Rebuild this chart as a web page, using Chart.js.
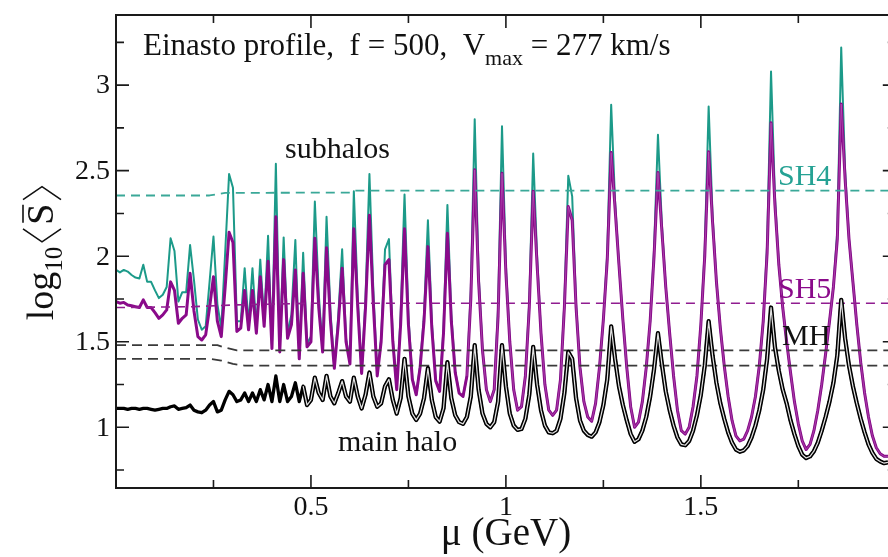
<!DOCTYPE html>
<html>
<head>
<meta charset="utf-8">
<script src="https://cdn.jsdelivr.net/npm/chart.js@4/dist/chart.umd.min.js"></script>
<style>
html,body{margin:0;padding:0;background:#fff;overflow:hidden;}
canvas{display:block;}
</style>
</head>
<body>
<canvas id="c" width="888" height="557"></canvas>
<script>
// mu grid (GeV)
const mu = [
0.00,0.01,0.02,0.03,0.04,0.05,0.06,0.07,0.08,0.09,
0.10,0.11,0.12,0.13,0.14,0.15,0.16,0.17,0.18,0.19,
0.20,0.21,0.22,0.23,0.24,0.25,0.26,0.27,0.28,0.29,
0.30,0.31,0.32,0.33,0.34,0.35,0.36,0.37,0.38,0.39,
0.40,0.41,0.42,0.43,0.44,0.45,0.46,0.47,0.48,0.49,
0.50,0.51,0.52,0.53,0.54,0.55,0.56,0.57,0.58,0.59,
0.60,0.61,0.62,0.63,0.64,0.65,0.66,0.67,0.68,0.69,
0.70,0.71,0.72,0.73,0.74,0.75,0.76,0.77,0.78,0.79,
0.80,0.81,0.82,0.83,0.84,0.85,0.86,0.87,0.88,0.89,
0.90,0.91,0.92,0.93,0.94,0.95,0.96,0.97,0.98,0.99,
1.00,1.01,1.02,1.03,1.04,1.05,1.06,1.07,1.08,1.09,
1.10,1.11,1.12,1.13,1.14,1.15,1.16,1.17,1.18,1.19,
1.20,1.21,1.22,1.23,1.24,1.25,1.26,1.27,1.28,1.29,
1.30,1.31,1.32,1.33,1.34,1.35,1.36,1.37,1.38,1.39,
1.40,1.41,1.42,1.43,1.44,1.45,1.46,1.47,1.48,1.49,
1.50,1.51,1.52,1.53,1.54,1.55,1.56,1.57,1.58,1.59,
1.60,1.61,1.62,1.63,1.64,1.65,1.66,1.67,1.68,1.69,
1.70,1.71,1.72,1.73,1.74,1.75,1.76,1.77,1.78,1.79,
1.80,1.81,1.82,1.83,1.84,1.85,1.86,1.87,1.88,1.89,
1.90,1.91,1.92,1.93,1.94,1.95,1.96,1.97,1.98];

// SH4 (teal) log10 <S>
const sh4 = [
1.92,1.905,1.92,1.91,1.89,1.875,1.87,1.95,1.85,1.85,
1.80,1.755,1.775,1.82,2.105,2.03,1.735,1.79,1.79,2.065,
1.86,1.63,1.57,1.59,1.85,2.115,1.72,1.58,2.02,2.48,
2.40,1.62,1.62,1.93,1.60,1.93,1.58,1.98,1.62,2.12,
1.48,2.54,1.46,2.11,1.55,1.66,2.095,1.42,2.02,1.49,
1.53,2.32,1.78,1.45,2.23,1.68,1.35,1.65,2.04,1.52,
1.38,2.38,1.76,1.32,1.76,2.48,1.80,1.31,1.52,2.04,
2.10,1.52,1.23,1.65,2.36,1.65,1.29,1.19,1.36,1.66,
2.21,1.62,1.28,1.21,1.58,2.30,1.66,1.33,1.20,1.18,
1.30,1.80,2.80,1.90,1.45,1.22,1.15,1.22,1.70,2.76,
1.95,1.50,1.22,1.10,1.12,1.30,1.74,2.60,2.00,1.55,
1.25,1.10,1.07,1.10,1.28,1.73,2.47,2.35,1.72,1.35,
1.15,1.06,1.035,1.14,1.35,1.63,2.02,2.885,2.32,1.95,
1.63,1.35,1.12,1.00,1.03,1.15,1.35,1.62,2.04,2.71,
2.19,1.82,1.55,1.30,1.10,0.98,0.96,1.00,1.12,1.30,
1.60,2.04,2.875,2.24,1.85,1.58,1.36,1.18,1.04,0.95,
0.92,0.93,0.98,1.06,1.18,1.36,1.62,2.07,3.08,2.35,
1.95,1.70,1.50,1.32,1.15,1.02,0.92,0.87,0.90,0.98,
1.10,1.25,1.43,1.62,1.82,2.15,3.22,2.50,2.10,1.85,
1.60,1.38,1.20,1.06,0.95,0.88,0.845,0.83,0.83];

// SH5 (purple)
const sh5 = [
1.735,1.725,1.73,1.715,1.71,1.705,1.70,1.745,1.70,1.70,
1.67,1.637,1.657,1.686,1.85,1.80,1.608,1.637,1.657,1.90,
1.68,1.53,1.51,1.54,1.70,1.88,1.62,1.53,1.82,2.14,
2.08,1.56,1.58,1.80,1.57,1.80,1.55,1.88,1.59,1.97,
1.46,2.23,1.44,1.98,1.52,1.60,1.92,1.40,1.90,1.47,
1.50,2.105,1.70,1.44,2.05,1.62,1.345,1.60,1.93,1.50,
1.37,2.16,1.70,1.315,1.70,2.24,1.72,1.30,1.50,1.95,
1.98,1.50,1.22,1.60,2.16,1.60,1.28,1.19,1.35,1.62,
2.056,1.58,1.27,1.21,1.55,2.134,1.62,1.32,1.20,1.18,
1.30,1.75,2.505,1.85,1.45,1.22,1.15,1.22,1.65,2.485,
1.90,1.50,1.22,1.10,1.12,1.30,1.70,2.38,1.95,1.55,
1.25,1.10,1.07,1.10,1.28,1.70,2.29,2.21,1.70,1.35,
1.15,1.06,1.035,1.14,1.35,1.63,1.98,2.606,2.28,1.95,
1.63,1.35,1.12,1.00,1.03,1.15,1.35,1.62,2.00,2.49,
2.15,1.82,1.55,1.30,1.10,0.98,0.96,1.00,1.12,1.30,
1.60,2.00,2.61,2.20,1.85,1.58,1.36,1.18,1.04,0.95,
0.92,0.93,0.98,1.06,1.18,1.36,1.62,2.02,2.78,2.30,
1.95,1.70,1.50,1.32,1.15,1.02,0.92,0.87,0.90,0.98,
1.10,1.25,1.43,1.62,1.82,2.10,2.89,2.45,2.10,1.85,
1.60,1.38,1.20,1.06,0.95,0.88,0.845,0.83,0.83];

// MH (main halo, black)
const mh = [
1.11,1.11,1.11,1.105,1.11,1.11,1.105,1.11,1.11,1.105,
1.10,1.105,1.11,1.11,1.12,1.125,1.105,1.11,1.115,1.13,
1.10,1.09,1.085,1.10,1.13,1.15,1.09,1.10,1.16,1.21,
1.19,1.15,1.16,1.20,1.15,1.20,1.15,1.22,1.16,1.25,
1.15,1.30,1.15,1.25,1.15,1.18,1.26,1.15,1.24,1.13,
1.16,1.29,1.20,1.16,1.30,1.18,1.14,1.20,1.27,1.18,
1.15,1.29,1.18,1.11,1.19,1.32,1.18,1.12,1.14,1.24,
1.28,1.16,1.08,1.17,1.40,1.18,1.08,1.043,1.08,1.17,
1.345,1.16,1.06,1.033,1.11,1.38,1.17,1.07,1.03,1.02,
1.06,1.18,1.48,1.22,1.08,1.02,1.00,1.03,1.15,1.48,
1.24,1.08,1.01,0.985,0.99,1.05,1.19,1.47,1.25,1.10,
1.01,0.97,0.965,0.98,1.05,1.20,1.44,1.40,1.17,1.04,
0.98,0.955,0.945,0.97,1.03,1.13,1.28,1.59,1.40,1.24,
1.13,1.04,0.96,0.915,0.93,0.98,1.06,1.18,1.34,1.55,
1.37,1.21,1.10,1.01,0.94,0.90,0.895,0.92,0.98,1.07,
1.19,1.36,1.62,1.42,1.26,1.14,1.05,0.97,0.91,0.87,
0.857,0.865,0.89,0.94,1.01,1.10,1.22,1.40,1.70,1.47,
1.33,1.22,1.14,1.04,0.96,0.89,0.84,0.82,0.83,0.86,
0.91,0.98,1.06,1.15,1.26,1.42,1.745,1.52,1.36,1.24,
1.14,1.05,0.97,0.90,0.85,0.815,0.80,0.79,0.795];

// dashed reference levels
const sh4DashMu = [0, 0.24, 0.28, 0.60, 0.61, 2.0];
const sh4Dash   = [2.355, 2.355, 2.37, 2.372, 2.383, 2.383];
const sh5DashMu = [0, 0.20, 0.30, 0.50, 2.0];
const sh5Dash   = [1.70, 1.705, 1.715, 1.725, 1.725];
const mhDashAMu = [0, 0.26, 0.28, 0.31, 2.0];
const mhDashA   = [1.48, 1.48, 1.465, 1.45, 1.45];
const mhDashBMu = [0, 0.24, 0.27, 0.30, 0.33, 2.0];
const mhDashB   = [1.40, 1.40, 1.39, 1.37, 1.36, 1.36];

// ticks
const xMajor = [0.5, 1, 1.5];
const xMajorLabels = ['0.5', '1', '1.5'];
const xMinor = [0.25, 0.75, 1.25, 1.75];
const yMajor = [1, 1.5, 2, 2.5, 3];
const yMajorLabels = ['1', '1.5', '2', '2.5', '3'];
const yMinor = [0.75, 1.25, 1.75, 2.25, 2.75, 3.25];

const TEAL = '#1c9a89';
const PURPLE = '#8a0a8a';
const HOLLOW_FROM = 48; // index where the hollow look of the thick black line starts

function pts(xs, ys) { return xs.map((x, i) => ({x: x, y: ys[i]})); }

const SERIF = '"Liberation Serif", "Times New Roman", serif';

function drawSubText(ctx, parts, x, y) {
  let cx = x;
  for (const p of parts) {
    ctx.font = p.size + 'px ' + SERIF;
    ctx.fillText(p.t, cx, y + (p.dy || 0));
    cx += ctx.measureText(p.t).width + (p.gap || 0);
  }
  return cx;
}
function measureParts(ctx, parts) {
  let w = 0;
  for (const p of parts) { ctx.font = p.size + 'px ' + SERIF; w += ctx.measureText(p.t).width + (p.gap || 0); }
  return w;
}

const framePlugin = {
  id: 'frame',
  afterDatasetsDraw(chart) {
    const ctx = chart.ctx, a = chart.chartArea, xs = chart.scales.x, ys = chart.scales.y;
    const xR = xs.getPixelForValue(2.0);
    ctx.save();
    ctx.strokeStyle = '#1a1a1a';
    ctx.lineWidth = 2;
    ctx.beginPath();
    ctx.moveTo(a.left, a.top - 1); ctx.lineTo(a.left, a.bottom + 1);
    ctx.moveTo(a.left, a.top); ctx.lineTo(xR, a.top);
    ctx.moveTo(a.left, a.bottom); ctx.lineTo(xR, a.bottom);
    ctx.stroke();
    ctx.lineWidth = 1.6;
    ctx.beginPath();
    const tick = (vals, len) => {
      for (const v of vals) {
        const px = xs.getPixelForValue(v);
        ctx.moveTo(px, a.bottom); ctx.lineTo(px, a.bottom - len);
        ctx.moveTo(px, a.top); ctx.lineTo(px, a.top + len);
      }
    };
    const ytick = (vals, len) => {
      for (const v of vals) {
        const py = ys.getPixelForValue(v);
        ctx.moveTo(a.left, py); ctx.lineTo(a.left + len, py);
        ctx.moveTo(xR, py); ctx.lineTo(xR - len, py);
      }
    };
    tick(xMajor, 13); tick(xMinor, 8);
    ytick(yMajor, 13); ytick(yMinor, 8);
    ctx.stroke();

    // tick labels
    ctx.fillStyle = '#111';
    ctx.font = '28px ' + SERIF;
    ctx.textAlign = 'right'; ctx.textBaseline = 'middle';
    yMajor.forEach((v, i) => ctx.fillText(yMajorLabels[i], 110, ys.getPixelForValue(v) + 1));
    ctx.textAlign = 'center'; ctx.textBaseline = 'alphabetic';
    xMajor.forEach((v, i) => ctx.fillText(xMajorLabels[i], xs.getPixelForValue(v), 515));

    // title
    ctx.textAlign = 'left';
    drawSubText(ctx, [
      {t: 'Einasto profile,  f = 500,  V', size: 31},
      {t: 'max', size: 22, dy: 10},
      {t: ' = 277 km/s', size: 31}
    ], 143, 55);

    // annotations
    ctx.font = '30px ' + SERIF;
    ctx.fillText('subhalos', 285, 158);
    ctx.fillText('main halo', 338, 451);
    ctx.fillStyle = '#26a294'; ctx.fillText('SH4', 778, 185);
    ctx.fillStyle = PURPLE; ctx.fillText('SH5', 778, 298);
    ctx.fillStyle = '#111'; ctx.fillText('MH', 782, 345);

    // x axis title
    ctx.font = '39px ' + SERIF;
    ctx.textAlign = 'center';
    ctx.fillText('\u03bc (GeV)', 506, 545);

    // y axis title (rotated)
    ctx.save();
    ctx.translate(53, 253);
    ctx.rotate(-Math.PI / 2);
    ctx.textAlign = 'left';
    const fs = 38;
    const head = [{t: 'log', size: fs}, {t: '10', size: 25, dy: 9, gap: 4}];
    ctx.font = fs + 'px ' + SERIF;
    const sW = ctx.measureText('S').width;
    const br = 14, brGap = 4;
    const total = measureParts(ctx, head) + br + brGap + sW + brGap + br;
    let cx = -total / 2;
    cx = drawSubText(ctx, head, cx, 0);
    ctx.strokeStyle = '#111'; ctx.lineWidth = 1.6;
    const top = -30, bot = 8, mid = (top + bot) / 2;
    ctx.beginPath();
    ctx.moveTo(cx + br, top); ctx.lineTo(cx + 1, mid); ctx.lineTo(cx + br, bot);
    ctx.stroke();
    cx += br + brGap;
    ctx.font = fs + 'px ' + SERIF;
    ctx.fillText('S', cx, 0);
    ctx.beginPath();
    ctx.moveTo(cx + 2, -30); ctx.lineTo(cx + sW - 1, -30);
    ctx.stroke();
    cx += sW + brGap;
    ctx.beginPath();
    ctx.moveTo(cx, top); ctx.lineTo(cx + br - 1, mid); ctx.lineTo(cx, bot);
    ctx.stroke();
    ctx.restore();

    ctx.restore();
  }
};

new Chart(document.getElementById('c'), {
  type: 'line',
  data: {
    datasets: [
      {data: pts(mu, sh4), borderColor: TEAL, borderWidth: 2, order: 9},
      {data: pts(mu, sh5), borderColor: PURPLE, borderWidth: 3, order: 8},
      {data: pts(mu.slice(90), sh5.slice(90)), borderColor: 'rgba(200,120,200,0.55)', borderWidth: 0.9, order: 7},
      {data: pts(sh4DashMu, sh4Dash), borderColor: '#3aa898', borderWidth: 1.8, borderDash: [9, 6], order: 5},
      {data: pts(sh5DashMu, sh5Dash), borderColor: '#901c90', borderWidth: 1.6, borderDash: [9, 6], order: 5},
      {data: pts(mhDashAMu, mhDashA), borderColor: '#3a3a3a', borderWidth: 1.8, borderDash: [10, 6], order: 5},
      {data: pts(mhDashBMu, mhDashB), borderColor: '#3a3a3a', borderWidth: 1.8, borderDash: [10, 6], order: 5},
      {data: pts(mu, mh), borderColor: '#000', borderWidth: 3.3, order: 3},
      {data: pts(mu.slice(HOLLOW_FROM), mh.slice(HOLLOW_FROM)), borderColor: '#000', borderWidth: 4.3, order: 2},
      {data: pts(mu.slice(HOLLOW_FROM), mh.slice(HOLLOW_FROM)), borderColor: '#e2e2e2', borderWidth: 1.2, order: 1}
    ]
  },
  options: {
    responsive: false,
    animation: false,
    devicePixelRatio: 1,
    layout: {padding: {left: 116, top: 15, right: 0, bottom: 69}},
    plugins: {legend: {display: false}, tooltip: {enabled: false}, title: {display: false}},
    elements: {point: {radius: 0}, line: {tension: 0, borderJoinStyle: 'round'}},
    scales: {
      x: {type: 'linear', min: 0, max: 1.98, display: false},
      y: {type: 'linear', min: 0.645, max: 3.41, display: false}
    }
  },
  plugins: [framePlugin]
});
</script>
</body>
</html>
